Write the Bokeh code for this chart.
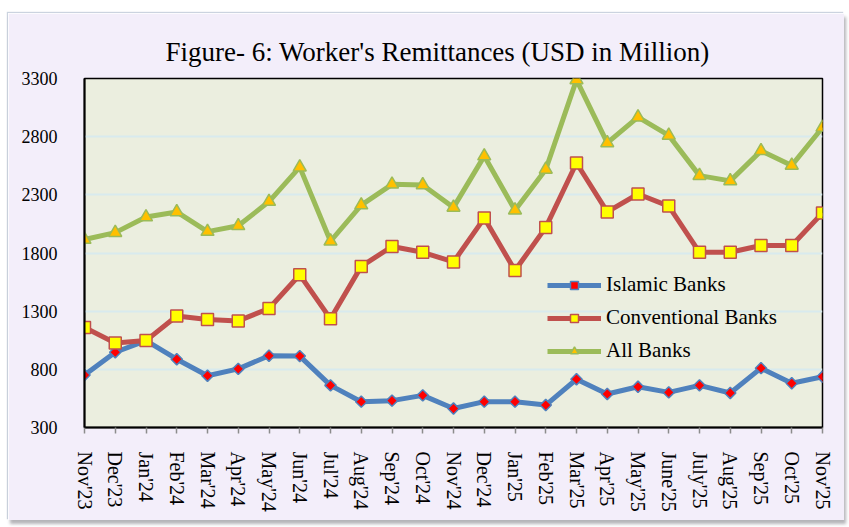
from bokeh.plotting import figure
from bokeh.models import (FixedTicker, Range1d, Legend, LegendItem, Title)
from bokeh.embed import file_html
from bokeh.resources import INLINE

months = ["Nov'23", "Dec'23", "Jan'24", "Feb'24", "Mar'24", "Apr'24", "May'24",
          "Jun'24", "Jul'24", "Aug'24", "Sep'24", "Oct'24", "Nov'24", "Dec'24",
          "Jan'25", "Feb'25", "Mar'25", "Apr'25", "May'25", "June'25", "July'25",
          "Aug'25", "Sep'25", "Oct'25", "Nov'25"]

islamic = [751, 947, 1047, 887, 745, 804, 917, 914, 662, 522, 531, 576, 463,
           522, 522, 493, 715, 588, 650, 602, 662, 597, 810, 680, 736]
conventional = [1160, 1027, 1047, 1258, 1228, 1216, 1323, 1613, 1234, 1685, 1856,
                1806, 1723, 2100, 1649, 2020, 2574, 2153, 2307, 2203, 1806, 1806,
                1865, 1865, 2144]
all_banks = [1916, 1975, 2109, 2153, 1984, 2034, 2242, 2538, 1901, 2212, 2390,
             2385, 2192, 2633, 2168, 2518, 3288, 2746, 2968, 2811, 2465, 2420,
             2678, 2553, 2879]

y_ticks = [300, 800, 1300, 1800, 2300, 2800, 3300]

x = list(range(len(months)))
FONT = "Liberation Serif"

p = figure(width=836, height=507, output_backend="svg", toolbar_location=None,
           x_range=Range1d(0, len(months) - 1), y_range=Range1d(300, 3300),
           min_border_left=76, min_border_right=22, min_border_top=65,
           min_border_bottom=93)
p.margin = (13, 5, 7, 8)
p.styles = {"box-shadow": "2px 4px 3px rgba(90, 90, 100, 0.45), "
                          "-1px -1px 1px rgba(190, 200, 215, 0.8)"}

p.title = Title(text="Figure- 6: Worker's Remittances (USD in Million)",
                text_font=FONT, text_font_size="27px", text_font_style="normal",
                text_color="#000000", align="left", offset=81, standoff=23)

p.background_fill_color = "#EBEEDF"
p.border_fill_color = "#F3EEFA"
p.outline_line_color = "#000000"
p.outline_line_width = 1.5

p.xgrid.grid_line_color = None
p.ygrid.grid_line_color = "#D8EAEE"
p.ygrid.grid_line_width = 2

p.yaxis.ticker = FixedTicker(ticks=y_ticks)
p.yaxis.major_tick_line_color = None
p.yaxis.minor_tick_line_color = None
p.yaxis.major_label_standoff = 21
p.yaxis.axis_line_color = "#000000"
p.yaxis.axis_line_width = 2
p.yaxis.major_label_text_font = FONT
p.yaxis.major_label_text_font_size = "18px"
p.yaxis.major_label_text_color = "#000000"

p.xaxis.ticker = FixedTicker(ticks=x)
p.xaxis.major_label_overrides = {i: m for i, m in enumerate(months)}
p.xaxis.major_label_orientation = "vertical"
p.xaxis.major_tick_out = 6
p.xaxis.major_tick_in = 0
p.xaxis.major_tick_line_color = "#8C8C8C"
p.xaxis.major_tick_line_width = 1.5
p.xaxis.minor_tick_line_color = None
p.xaxis.axis_line_color = "#000000"
p.xaxis.axis_line_width = 2
p.xaxis.major_label_standoff = 18
p.xaxis.major_label_text_font = FONT
p.xaxis.major_label_text_font_size = "20px"
p.xaxis.major_label_text_color = "#000000"

l1 = p.line(x, islamic, line_color="#4F81BD", line_width=5)
s1 = p.scatter(x, islamic, marker="square", angle=0.7854, size=8, fill_color="#FF0000",
               line_color="#4F81BD", line_width=1.5)
l2 = p.line(x, conventional, line_color="#C0504D", line_width=5)
s2 = p.scatter(x, conventional, marker="square", size=12, fill_color="#FFFF00",
               line_color="#C0504D", line_width=1.5)
l3 = p.line(x, all_banks, line_color="#9BBB59", line_width=5)
s3 = p.scatter(x, all_banks, marker="triangle", size=13, fill_color="#FFC000",
               line_color="#9BBB59", line_width=1.5)

legend = Legend(items=[LegendItem(label="Islamic Banks", renderers=[l1, s1]),
                       LegendItem(label="Conventional Banks", renderers=[l2, s2]),
                       LegendItem(label="All Banks", renderers=[l3, s3])],
                location=(463, 64), background_fill_alpha=0, border_line_color=None,
                label_text_font=FONT, label_text_font_size="21px",
                label_text_color="#000000", glyph_width=54, glyph_height=20,
                label_height=20, spacing=8, padding=0, margin=0, label_standoff=5)
p.add_layout(legend)

open("out.html", "w").write(file_html(p, INLINE))
